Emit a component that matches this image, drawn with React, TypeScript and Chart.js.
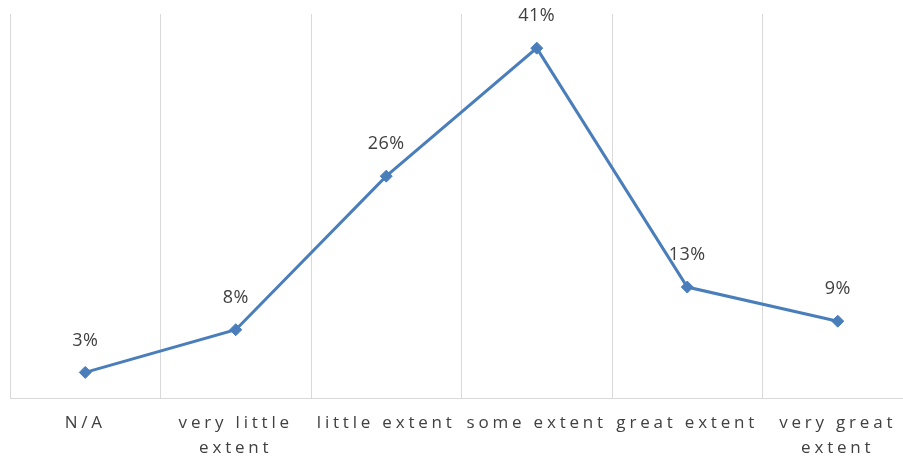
import React, { useEffect, useRef } from "react";
import { Chart, registerables } from "chart.js";

Chart.register(...registerables);

const categories: string[][] = [
  ["N/A"],
  ["very little", "extent"],
  ["little extent"],
  ["some extent"],
  ["great extent"],
  ["very great", "extent"],
];
const shares: number[] = [3, 8, 26, 41, 13, 9];
const valueLabels: string[] = ["3%", "8%", "26%", "41%", "13%", "9%"];

const LINE_BLUE = "#4a7ebb";
const GRID_GREY = "#d9d9d9";
const TEXT_GREY = "#404040";
const FONT_FAMILY = "'Open Sans', Lato, sans-serif";

// Axis labels are drawn with wide character spacing; point labels are not.
const letterSpacingPlugin = {
  id: "letterSpacing",
  beforeDraw(chart: any) {
    (chart.ctx as any).letterSpacing = "3.8px";
  },
  beforeDatasetsDraw(chart: any) {
    (chart.ctx as any).letterSpacing = "0px";
  },
};

// Percentage labels above each point.
const valueLabelPlugin = {
  id: "valueLabels",
  afterDatasetsDraw(chart: any) {
    const ctx = chart.ctx;
    const meta = chart.getDatasetMeta(0);
    ctx.save();
    ctx.letterSpacing = "0.5px";
    ctx.font = `18px ${FONT_FAMILY}`;
    ctx.fillStyle = TEXT_GREY;
    ctx.textAlign = "center";
    ctx.textBaseline = "middle";
    meta.data.forEach((pt: any, i: number) => {
      ctx.fillText(valueLabels[i], pt.x, pt.y - 32);
    });
    ctx.restore();
  },
};

export default function App() {
  const canvasRef = useRef<HTMLCanvasElement | null>(null);

  useEffect(() => {
    if (!canvasRef.current) return;
    const chart = new Chart(canvasRef.current, {
      type: "line",
      data: {
        labels: categories,
        datasets: [
          {
            data: shares,
            borderColor: LINE_BLUE,
            backgroundColor: LINE_BLUE,
            borderWidth: 3,
            pointStyle: "rectRot",
            pointRadius: 6,
            pointBorderWidth: 1,
            pointBorderColor: LINE_BLUE,
            pointBackgroundColor: LINE_BLUE,
            tension: 0,
          },
        ],
      },
      options: {
        responsive: false,
        animation: false,
        devicePixelRatio: 1,
        layout: { autoPadding: false, padding: { left: 10, top: 14, right: 0, bottom: 0 } },
        plugins: {
          legend: { display: false },
          tooltip: { enabled: false },
        },
        scales: {
          x: {
            offset: true,
            grid: {
              display: true,
              offset: true,
              color: GRID_GREY,
              lineWidth: 1,
              drawTicks: false,
            },
            border: { display: true, color: GRID_GREY, width: 1 },
            ticks: {
              color: TEXT_GREY,
              padding: 13,
              maxRotation: 0,
              autoSkip: false,
              font: { family: FONT_FAMILY, size: 17, lineHeight: 1.45 },
            },
            afterFit(scale: any) {
              scale.height = 63;
            },
          },
          y: {
            display: false,
            min: 0,
            max: 45,
          },
        },
      },
      plugins: [letterSpacingPlugin, valueLabelPlugin],
    });
    return () => chart.destroy();
  }, []);

  return (
    <div
      style={{
        position: "absolute",
        left: 0,
        top: 0,
        width: 903,
        height: 461,
        overflow: "hidden",
        background: "#ffffff",
      }}
    >
      <canvas ref={canvasRef} width={913} height={461} style={{ display: "block" }} />
    </div>
  );
}
